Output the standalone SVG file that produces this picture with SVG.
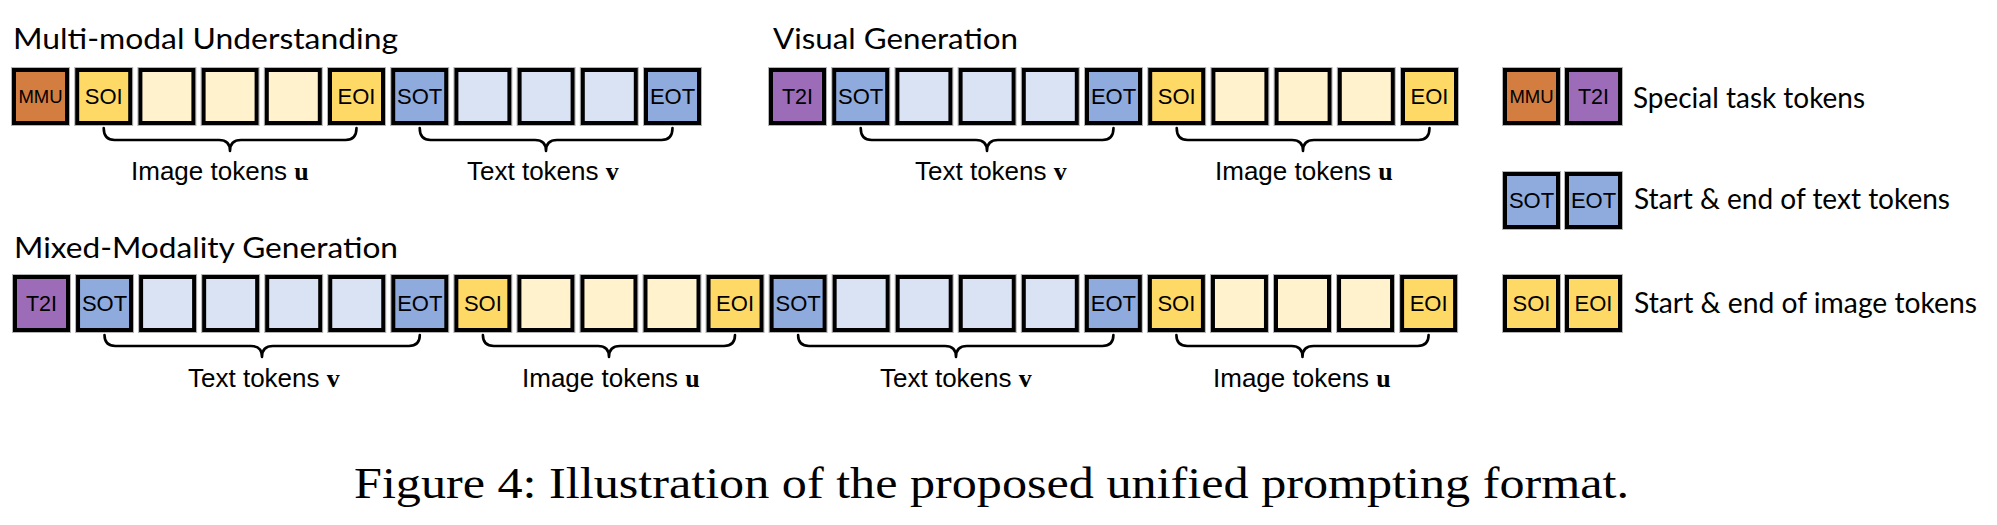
<svg xmlns="http://www.w3.org/2000/svg" xmlns:xlink="http://www.w3.org/1999/xlink" width="1997" height="525" viewBox="0 0 1997 525">
<style>
.bx{stroke:#000;stroke-width:4}
.ol{fill:none;stroke:#b4b4b4;stroke-width:1}
.mmu{fill:#D47D41}
.t2i{fill:#9C6CB9}
.st{fill:#8FAADC}
.tx{fill:#DAE3F3}
.si{fill:#FFD966}
.im{fill:#FFF2CC}
.tk{font-family:"Liberation Sans",Arial,sans-serif;font-size:22px;text-anchor:middle;fill:#000}
.tk.s{font-size:18.5px}
.title{font-family:Lato,"Open Sans",sans-serif;font-size:28px;fill:#000}
.lbl{font-family:"Liberation Sans",Arial,sans-serif;font-size:26px;fill:#000}
.mb{font-family:"Liberation Serif","Times New Roman",serif;font-weight:bold}
.br{fill:none;stroke:#000;stroke-width:2.6;stroke-linejoin:round;stroke-linecap:round}
.cap{font-family:"Liberation Serif","Times New Roman",serif;font-size:45px;fill:#000}
</style>
<defs>
<g id="frame"><rect class="ol" x="-0.5" y="-0.5" width="58" height="58"/></g>
</defs>
<rect width="1997" height="525" fill="#fff"/>

<text class="title" x="13" y="49" textLength="385" lengthAdjust="spacingAndGlyphs">Multi-modal Understanding</text>
<text class="title" x="773" y="49" textLength="245" lengthAdjust="spacingAndGlyphs">Visual Generation</text>
<text class="title" x="14" y="258" textLength="384" lengthAdjust="spacingAndGlyphs">Mixed-Modality Generation</text>

<!-- Row 1: Multi-modal understanding -->
<g id="mmu-seq">
<g transform="translate(12,68)"><use xlink:href="#frame"/><rect class="bx mmu" x="2" y="2" width="53" height="53"/><text class="tk s" x="28.5" y="35">MMU</text></g>
<g transform="translate(75.2,68)"><use xlink:href="#frame"/><rect class="bx si" x="2" y="2" width="53" height="53"/><text class="tk" x="28.5" y="36.4">SOI</text></g>
<g transform="translate(138.4,68)"><use xlink:href="#frame"/><rect class="bx im" x="2" y="2" width="53" height="53"/></g>
<g transform="translate(201.6,68)"><use xlink:href="#frame"/><rect class="bx im" x="2" y="2" width="53" height="53"/></g>
<g transform="translate(264.8,68)"><use xlink:href="#frame"/><rect class="bx im" x="2" y="2" width="53" height="53"/></g>
<g transform="translate(328,68)"><use xlink:href="#frame"/><rect class="bx si" x="2" y="2" width="53" height="53"/><text class="tk" x="28.5" y="36.4">EOI</text></g>
<g transform="translate(391.2,68)"><use xlink:href="#frame"/><rect class="bx st" x="2" y="2" width="53" height="53"/><text class="tk" x="28.5" y="36.4">SOT</text></g>
<g transform="translate(454.4,68)"><use xlink:href="#frame"/><rect class="bx tx" x="2" y="2" width="53" height="53"/></g>
<g transform="translate(517.6,68)"><use xlink:href="#frame"/><rect class="bx tx" x="2" y="2" width="53" height="53"/></g>
<g transform="translate(580.8,68)"><use xlink:href="#frame"/><rect class="bx tx" x="2" y="2" width="53" height="53"/></g>
<g transform="translate(644,68)"><use xlink:href="#frame"/><rect class="bx st" x="2" y="2" width="53" height="53"/><text class="tk" x="28.5" y="36.4">EOT</text></g>
</g>

<!-- Row 1: Visual generation -->
<g id="vg-seq">
<g transform="translate(769,68)"><use xlink:href="#frame"/><rect class="bx t2i" x="2" y="2" width="53" height="53"/><text class="tk" x="28.5" y="36.2" style="font-size:21.5px">T2I</text></g>
<g transform="translate(832.2,68)"><use xlink:href="#frame"/><rect class="bx st" x="2" y="2" width="53" height="53"/><text class="tk" x="28.5" y="36.4">SOT</text></g>
<g transform="translate(895.4,68)"><use xlink:href="#frame"/><rect class="bx tx" x="2" y="2" width="53" height="53"/></g>
<g transform="translate(958.6,68)"><use xlink:href="#frame"/><rect class="bx tx" x="2" y="2" width="53" height="53"/></g>
<g transform="translate(1021.8,68)"><use xlink:href="#frame"/><rect class="bx tx" x="2" y="2" width="53" height="53"/></g>
<g transform="translate(1085,68)"><use xlink:href="#frame"/><rect class="bx st" x="2" y="2" width="53" height="53"/><text class="tk" x="28.5" y="36.4">EOT</text></g>
<g transform="translate(1148.2,68)"><use xlink:href="#frame"/><rect class="bx si" x="2" y="2" width="53" height="53"/><text class="tk" x="28.5" y="36.4">SOI</text></g>
<g transform="translate(1211.4,68)"><use xlink:href="#frame"/><rect class="bx im" x="2" y="2" width="53" height="53"/></g>
<g transform="translate(1274.6,68)"><use xlink:href="#frame"/><rect class="bx im" x="2" y="2" width="53" height="53"/></g>
<g transform="translate(1337.8,68)"><use xlink:href="#frame"/><rect class="bx im" x="2" y="2" width="53" height="53"/></g>
<g transform="translate(1401,68)"><use xlink:href="#frame"/><rect class="bx si" x="2" y="2" width="53" height="53"/><text class="tk" x="28.5" y="36.4">EOI</text></g>
</g>

<!-- Row 2: Mixed-modality generation -->
<g id="mmg-seq">
<g transform="translate(13,275)"><use xlink:href="#frame"/><rect class="bx t2i" x="2" y="2" width="53" height="53"/><text class="tk" x="28.5" y="36.2" style="font-size:21.5px">T2I</text></g>
<g transform="translate(76.05,275)"><use xlink:href="#frame"/><rect class="bx st" x="2" y="2" width="53" height="53"/><text class="tk" x="28.5" y="36.4">SOT</text></g>
<g transform="translate(139.1,275)"><use xlink:href="#frame"/><rect class="bx tx" x="2" y="2" width="53" height="53"/></g>
<g transform="translate(202.15,275)"><use xlink:href="#frame"/><rect class="bx tx" x="2" y="2" width="53" height="53"/></g>
<g transform="translate(265.2,275)"><use xlink:href="#frame"/><rect class="bx tx" x="2" y="2" width="53" height="53"/></g>
<g transform="translate(328.25,275)"><use xlink:href="#frame"/><rect class="bx tx" x="2" y="2" width="53" height="53"/></g>
<g transform="translate(391.3,275)"><use xlink:href="#frame"/><rect class="bx st" x="2" y="2" width="53" height="53"/><text class="tk" x="28.5" y="36.4">EOT</text></g>
<g transform="translate(454.35,275)"><use xlink:href="#frame"/><rect class="bx si" x="2" y="2" width="53" height="53"/><text class="tk" x="28.5" y="36.4">SOI</text></g>
<g transform="translate(517.4,275)"><use xlink:href="#frame"/><rect class="bx im" x="2" y="2" width="53" height="53"/></g>
<g transform="translate(580.45,275)"><use xlink:href="#frame"/><rect class="bx im" x="2" y="2" width="53" height="53"/></g>
<g transform="translate(643.5,275)"><use xlink:href="#frame"/><rect class="bx im" x="2" y="2" width="53" height="53"/></g>
<g transform="translate(706.55,275)"><use xlink:href="#frame"/><rect class="bx si" x="2" y="2" width="53" height="53"/><text class="tk" x="28.5" y="36.4">EOI</text></g>
<g transform="translate(769.6,275)"><use xlink:href="#frame"/><rect class="bx st" x="2" y="2" width="53" height="53"/><text class="tk" x="28.5" y="36.4">SOT</text></g>
<g transform="translate(832.65,275)"><use xlink:href="#frame"/><rect class="bx tx" x="2" y="2" width="53" height="53"/></g>
<g transform="translate(895.7,275)"><use xlink:href="#frame"/><rect class="bx tx" x="2" y="2" width="53" height="53"/></g>
<g transform="translate(958.75,275)"><use xlink:href="#frame"/><rect class="bx tx" x="2" y="2" width="53" height="53"/></g>
<g transform="translate(1021.8,275)"><use xlink:href="#frame"/><rect class="bx tx" x="2" y="2" width="53" height="53"/></g>
<g transform="translate(1084.85,275)"><use xlink:href="#frame"/><rect class="bx st" x="2" y="2" width="53" height="53"/><text class="tk" x="28.5" y="36.4">EOT</text></g>
<g transform="translate(1147.9,275)"><use xlink:href="#frame"/><rect class="bx si" x="2" y="2" width="53" height="53"/><text class="tk" x="28.5" y="36.4">SOI</text></g>
<g transform="translate(1210.95,275)"><use xlink:href="#frame"/><rect class="bx im" x="2" y="2" width="53" height="53"/></g>
<g transform="translate(1274,275)"><use xlink:href="#frame"/><rect class="bx im" x="2" y="2" width="53" height="53"/></g>
<g transform="translate(1337.05,275)"><use xlink:href="#frame"/><rect class="bx im" x="2" y="2" width="53" height="53"/></g>
<g transform="translate(1400.1,275)"><use xlink:href="#frame"/><rect class="bx si" x="2" y="2" width="53" height="53"/><text class="tk" x="28.5" y="36.4">EOI</text></g>
</g>

<!-- Legend -->
<g id="legend-task">
<g transform="translate(1503,68)"><use xlink:href="#frame"/><rect class="bx mmu" x="2" y="2" width="53" height="53"/><text class="tk s" x="28.5" y="35">MMU</text></g>
<g transform="translate(1565,68)"><use xlink:href="#frame"/><rect class="bx t2i" x="2" y="2" width="53" height="53"/><text class="tk" x="28.5" y="36.2" style="font-size:21.5px">T2I</text></g>
<text class="title" x="1633" y="108" textLength="232" lengthAdjust="spacingAndGlyphs">Special task tokens</text>
</g>
<g id="legend-text">
<g transform="translate(1503,172)"><use xlink:href="#frame"/><rect class="bx st" x="2" y="2" width="53" height="53"/><text class="tk" x="28.5" y="36.4">SOT</text></g>
<g transform="translate(1565,172)"><use xlink:href="#frame"/><rect class="bx st" x="2" y="2" width="53" height="53"/><text class="tk" x="28.5" y="36.4">EOT</text></g>
<text class="title" x="1634" y="209" textLength="316" lengthAdjust="spacingAndGlyphs">Start &amp; end of text tokens</text>
</g>
<g id="legend-image">
<g transform="translate(1503,275)"><use xlink:href="#frame"/><rect class="bx si" x="2" y="2" width="53" height="53"/><text class="tk" x="28.5" y="36.4">SOI</text></g>
<g transform="translate(1565,275)"><use xlink:href="#frame"/><rect class="bx si" x="2" y="2" width="53" height="53"/><text class="tk" x="28.5" y="36.4">EOI</text></g>
<text class="title" x="1634" y="313" textLength="343" lengthAdjust="spacingAndGlyphs">Start &amp; end of image tokens</text>
</g>

<!-- Braces -->
<g id="connectors">
<path class="br" d="M103.7,128 Q103.7,140 114.7,140 L219,140 Q230,140 230,151 Q230,140 241,140 L345.5,140 Q356.5,140 356.5,128"/>
<path class="br" d="M419.7,128 Q419.7,140 430.7,140 L535,140 Q546,140 546,151 Q546,140 557,140 L661.5,140 Q672.5,140 672.5,128"/>
<path class="br" d="M860.7,128 Q860.7,140 871.7,140 L976,140 Q987,140 987,151 Q987,140 998,140 L1102.5,140 Q1113.5,140 1113.5,128"/>
<path class="br" d="M1176.7,128 Q1176.7,140 1187.7,140 L1292,140 Q1303,140 1303,151 Q1303,140 1314,140 L1418.5,140 Q1429.5,140 1429.5,128"/>
<path class="br" d="M104.5,335 Q104.5,346 115.5,346 L251,346 Q262,346 262,357 Q262,346 273,346 L408.8,346 Q419.8,346 419.8,335"/>
<path class="br" d="M482.9,335 Q482.9,346 493.9,346 L598,346 Q609,346 609,357 Q609,346 620,346 L724,346 Q735,346 735,335"/>
<path class="br" d="M798.1,335 Q798.1,346 809.1,346 L945,346 Q956,346 956,357 Q956,346 967,346 L1102.4,346 Q1113.4,346 1113.4,335"/>
<path class="br" d="M1176.4,335 Q1176.4,346 1187.4,346 L1291.5,346 Q1302.5,346 1302.5,357 Q1302.5,346 1313.5,346 L1417.6,346 Q1428.6,346 1428.6,335"/>
</g>

<g id="labels">
<text class="lbl" x="131" y="180">Image tokens <tspan class="mb">u</tspan></text>
<text class="lbl" x="467" y="180">Text tokens <tspan class="mb">v</tspan></text>
<text class="lbl" x="915" y="180">Text tokens <tspan class="mb">v</tspan></text>
<text class="lbl" x="1215" y="180">Image tokens <tspan class="mb">u</tspan></text>
<text class="lbl" x="188" y="387">Text tokens <tspan class="mb">v</tspan></text>
<text class="lbl" x="522" y="387">Image tokens <tspan class="mb">u</tspan></text>
<text class="lbl" x="880" y="387">Text tokens <tspan class="mb">v</tspan></text>
<text class="lbl" x="1213" y="387">Image tokens <tspan class="mb">u</tspan></text>
</g>

<text class="cap" x="354" y="498" textLength="1275" lengthAdjust="spacingAndGlyphs">Figure 4: Illustration of the proposed unified prompting format.</text>
</svg>
